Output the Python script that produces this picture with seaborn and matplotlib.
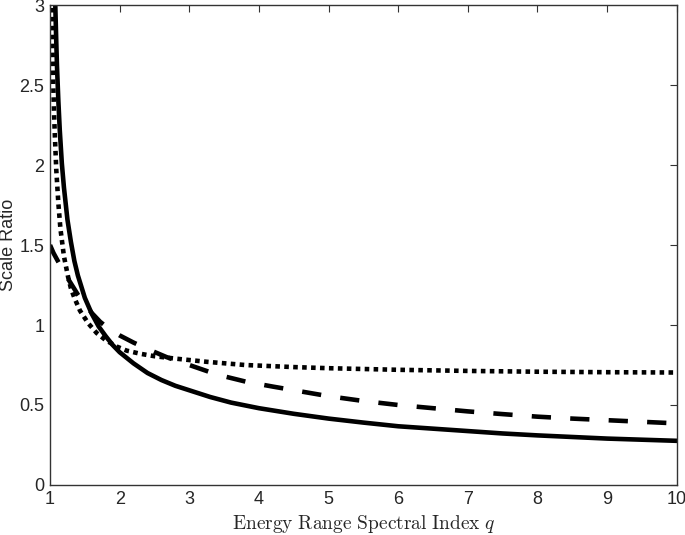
import matplotlib
matplotlib.use('Agg')
import matplotlib.pyplot as plt
import seaborn as sns

# values
q_solid = [1.07, 1.08, 1.09, 1.10, 1.12, 1.14, 1.17, 1.2, 1.25, 1.3, 1.35, 1.4, 1.5,
           1.6, 1.7, 1.8, 1.9, 2.0, 2.2, 2.4, 2.6, 2.8, 3.0, 3.3, 3.6, 4.0, 4.5, 5.0,
           5.5, 6.0, 6.5, 7.0, 7.5, 8.0, 8.5, 9.0, 9.5, 10.0]
r_solid = [3.1, 2.93, 2.77, 2.62, 2.40, 2.22, 2.01, 1.86, 1.66, 1.52, 1.40, 1.31, 1.17,
           1.07, 0.99, 0.93, 0.875, 0.83, 0.76, 0.70, 0.656, 0.62, 0.592, 0.55, 0.515,
           0.48, 0.445, 0.415, 0.39, 0.367, 0.352, 0.337, 0.322, 0.31, 0.30, 0.29,
           0.283, 0.276]

q_dash = [1.0, 1.05, 1.1, 1.2, 1.3, 1.4, 1.5, 1.6, 1.72, 1.85, 2.0, 2.2, 2.4, 2.67,
          3.0, 3.4, 3.82, 4.2, 4.6, 5.0, 5.5, 6.0, 6.5, 7.0, 7.5, 8.0, 8.5, 9.0,
          9.5, 10.0]
r_dash = [1.5, 1.45, 1.41, 1.33, 1.26, 1.19, 1.13, 1.075, 1.02, 0.975, 0.935, 0.89,
          0.85, 0.80, 0.75, 0.69, 0.645, 0.615, 0.585, 0.555, 0.525, 0.50, 0.48, 0.46,
          0.443, 0.427, 0.415, 0.405, 0.395, 0.385]

q_dot = [1.02, 1.03, 1.04, 1.05, 1.06, 1.07, 1.09, 1.12, 1.15, 1.2, 1.26, 1.3, 1.35,
         1.43, 1.55, 1.67, 1.8, 1.96, 2.1, 2.3, 2.5, 2.8, 3.25, 3.8, 4.5, 5.0, 6.0,
         7.0, 8.0, 9.0, 10.0]
r_dot = [3.1, 2.85, 2.64, 2.45, 2.3, 2.18, 1.97, 1.76, 1.6, 1.43, 1.30, 1.23, 1.17,
         1.09, 1.01, 0.95, 0.905, 0.865, 0.84, 0.82, 0.805, 0.79, 0.77, 0.75, 0.737,
         0.73, 0.72, 0.713, 0.708, 0.705, 0.703]

x_ticks = [1, 2, 3, 4, 5, 6, 7, 8, 9, 10]
y_ticks = [0, 0.5, 1, 1.5, 2, 2.5, 3]
y_tick_labels = ['0', '0.5', '1', '1.5', '2', '2.5', '3']

sns.set_theme(style='white')
plt.rcParams['font.family'] = ['Liberation Sans', 'DejaVu Sans']
plt.rcParams['mathtext.fontset'] = 'cm'

fig = plt.figure(figsize=(6.85, 5.35), dpi=100)
ax = fig.add_axes([0.073, 0.0935, 0.915, 0.897])

sns.lineplot(x=q_solid, y=r_solid, color='black', lw=3.3, sort=False, estimator=None, ax=ax)
sns.lineplot(x=q_dash, y=r_dash, color='black', lw=3.3, sort=False, estimator=None, ax=ax,
             linestyle=(0, (4.2, 4.2)), dash_capstyle='butt')
sns.lineplot(x=q_dot, y=r_dot, color='black', lw=3.3, sort=False, estimator=None, ax=ax,
             linestyle=(0, (1, 0.95)), dash_capstyle='butt')

ax.set_xlim(1, 10)
ax.set_ylim(0, 3)
ax.set_xticks(x_ticks)
ax.set_xticklabels([str(t) for t in x_ticks])
ax.set_yticks(y_ticks)
ax.set_yticklabels(y_tick_labels)
ax.tick_params(direction='in', length=5, width=0.8, top=True, right=True,
               labelsize=13, color='#333333', pad=4)
for s in ax.spines.values():
    s.set_color('#333333')
    s.set_linewidth(1.0)

ax.set_xlabel(r'$\mathrm{Energy\ Range\ Spectral\ Index}\ q$', fontsize=14, labelpad=4)
ax.set_ylabel('Scale Ratio', fontsize=13, labelpad=2)

fig.savefig('out.png', dpi=100)
